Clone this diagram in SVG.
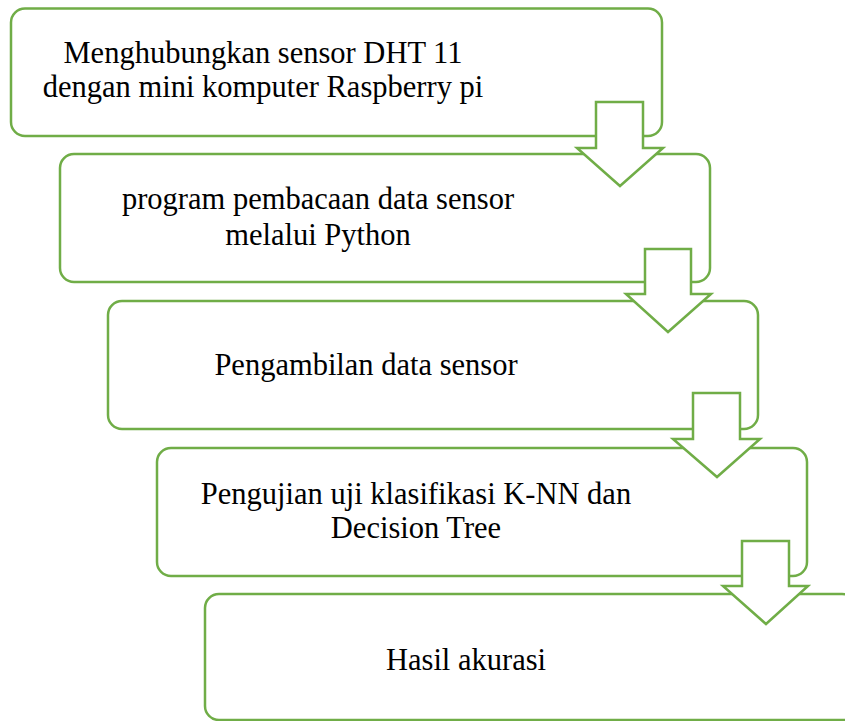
<svg xmlns="http://www.w3.org/2000/svg" width="845" height="721" viewBox="0 0 845 721">
  <style>
    .box { fill: #ffffff; stroke: #70AD47; stroke-width: 2.5; }
    .arrow { fill: #ffffff; stroke: #70AD47; stroke-width: 2.5; stroke-linejoin: miter; }
    .label { font-family: "Liberation Serif", "Times New Roman", serif; font-size: 30.5px; fill: #000000; text-anchor: middle; }
  </style>
  <rect width="845" height="721" fill="#ffffff"/>

  <!-- step boxes, stepping down to the right -->
  <g id="step1">
    <rect class="box" x="11" y="8.5" width="651" height="127.5" rx="14"/>
    <text class="label" x="263" y="63">Menghubungkan sensor DHT 11</text>
    <text class="label" x="263" y="97">dengan mini komputer Raspberry pi</text>
  </g>
  <g id="step2">
    <rect class="box" x="60" y="154" width="650" height="128" rx="14"/>
    <text class="label" x="318" y="209">program pembacaan data sensor</text>
    <text class="label" x="318" y="245">melalui Python</text>
  </g>
  <g id="step3">
    <rect class="box" x="108" y="301" width="650" height="128" rx="14"/>
    <text class="label" x="366" y="375">Pengambilan data sensor</text>
  </g>
  <g id="step4">
    <rect class="box" x="157" y="448" width="650" height="128" rx="14"/>
    <text class="label" x="416" y="504">Pengujian uji klasifikasi K-NN dan</text>
    <text class="label" x="416" y="538">Decision Tree</text>
  </g>
  <g id="step5">
    <rect class="box" x="205" y="594" width="651" height="126" rx="14"/>
    <text class="label" x="466" y="670">Hasil akurasi</text>
  </g>

  <!-- block arrows linking each step to the next -->
  <g id="connectors">
    <polygon class="arrow" points="596,102 643,102 643,148 663,148 620,186 577,148 596,148"/>
    <polygon class="arrow" points="645,249 691,249 691,294 711,294 668,332 626,294 645,294"/>
    <polygon class="arrow" points="693,393 740,393 740,439 760,439 717,477 673,439 693,439"/>
    <polygon class="arrow" points="742,541 789,541 789,586 808,586 766,624 723,586 742,586"/>
  </g>
</svg>
